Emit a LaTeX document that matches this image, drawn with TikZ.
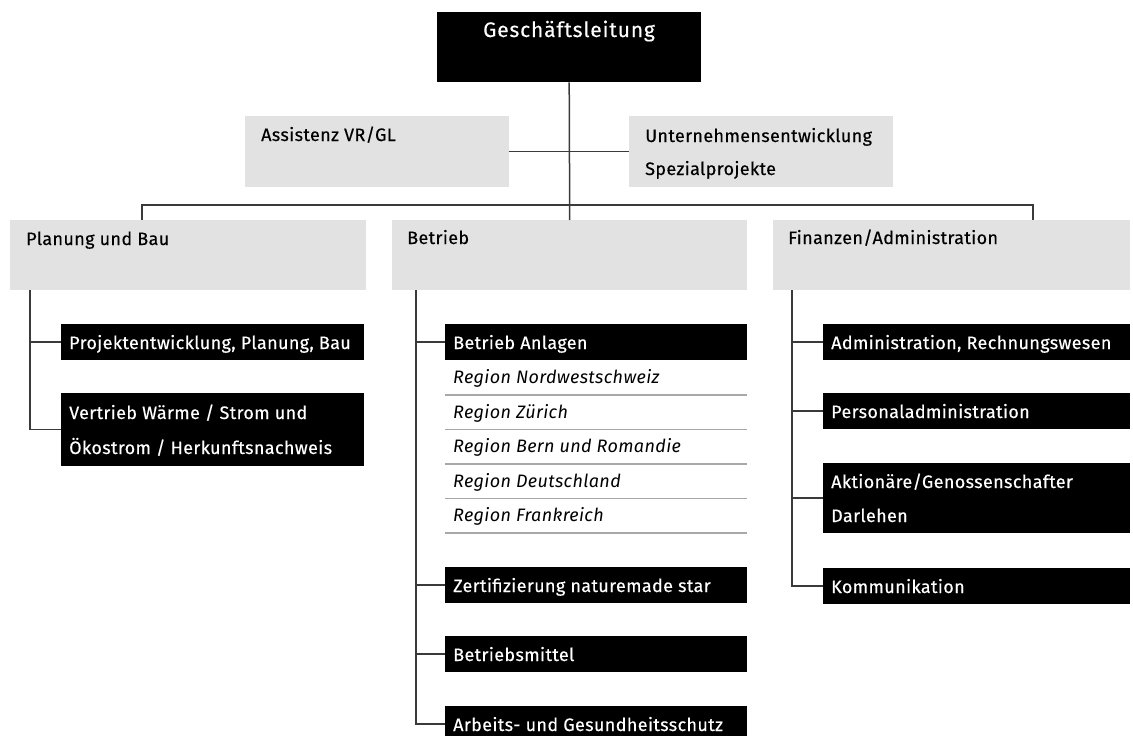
\documentclass[tikz,border=0pt]{standalone}
\usepackage{fontspec}
\setmainfont{Fira Sans}[LetterSpace=2, UprightFeatures={FakeBold=0.35}]
\begin{document}
\begin{tikzpicture}[x=1pt,y=-1pt,
  hdr/.style={fill=headgray, anchor=north west, inner sep=0pt, draw=none},
  blk/.style={fill=black, anchor=north west, inner sep=0pt, draw=none},
  rgn/.style={anchor=north west, inner sep=0pt, draw=none, minimum width=302pt, minimum height=34.5pt},
  dtxt/.style={anchor=base west, inner sep=0pt, text=black, font=\fontsize{18}{21}\selectfont},
  wtxt/.style={anchor=base west, inner sep=0pt, text=white, font=\fontsize{18}{21}\selectfont},
  itxt/.style={anchor=base west, inner sep=0pt, text=black, font=\fontsize{18}{21}\selectfont\itshape},
  conn/.style={draw=linegray, line width=1.5pt},
  sepline/.style={draw=sepgray, line width=1.2pt}
]
\definecolor{headgray}{HTML}{E1E2E1}
\definecolor{linegray}{HTML}{3A3A3A}
\definecolor{sepgray}{HTML}{A8A8A8}
\useasboundingbox (0,0) rectangle (1133,736);

% top
\node[blk, minimum width=264pt, minimum height=70pt] (gl) at (437,12) {};
\node[anchor=base, inner sep=0pt, text=white, font=\fontsize{21}{24}\selectfont\addfontfeature{LetterSpace=4}] (glt) at (569,37) {Geschäftsleitung};

\node[hdr, minimum width=264pt, minimum height=71pt] (as) at (245,116) {};
\node[dtxt] (ast) at (261,141) {Assistenz VR/GL};
\node[hdr, minimum width=264pt, minimum height=71pt] (ue) at (629,116) {};
\node[dtxt] (uet1) at (645,142) {Unternehmensentwicklung};
\node[dtxt] (uet2) at (645,175) {Spezialprojekte};

% headers
\node[hdr, minimum width=356pt, minimum height=70pt] (pb) at (10,220) {};
\node[dtxt] (pbt) at (26,245) {Planung und Bau};
\node[hdr, minimum width=355pt, minimum height=70pt] (be) at (392,220) {};
\node[dtxt] (bet) at (407,244) {Betrieb};
\node[hdr, minimum width=357pt, minimum height=70pt] (fi) at (773,220) {};
\node[dtxt] (fit) at (788,244) {Finanzen/Administration};

% Planung column
\node[blk, minimum width=303pt, minimum height=36pt] (pb1) at (61,324) {};
\node[wtxt] (pb1t) at (69,349) {Projektentwicklung, Planung, Bau};
\node[blk, minimum width=303pt, minimum height=73pt] (pb2) at (61,393) {};
\node[wtxt] (pb2t1) at (69,419) {Vertrieb Wärme / Strom und};
\node[wtxt] (pb2t2) at (69,454) {Ökostrom / Herkunftsnachweis};

% Betrieb column
\node[blk, minimum width=302pt, minimum height=36pt] (b1) at (445,324) {};
\node[wtxt] (b1t) at (453,349) {Betrieb Anlagen};
\node[rgn] (r1) at (445,360) {};
\node[itxt] (r1t) at (453,383) {Region Nordwestschweiz};
\node[rgn] (r2) at (445,394.5) {};
\node[itxt] (r2t) at (453,418) {Region Zürich};
\node[rgn] (r3) at (445,429) {};
\node[itxt] (r3t) at (453,452.5) {Region Bern und Romandie};
\node[rgn] (r4) at (445,463.5) {};
\node[itxt] (r4t) at (453,487) {Region Deutschland};
\node[rgn] (r5) at (445,498) {};
\node[itxt] (r5t) at (453,521.5) {Region Frankreich};
\foreach \r in {r1,r2,r3,r4,r5}{\draw[sepline] (\r.south west) -- (\r.south east);}
\node[blk, minimum width=302pt, minimum height=36pt] (b2) at (445,567) {};
\node[wtxt] (b2t) at (453,592) {Zertifizierung naturemade star};
\node[blk, minimum width=302pt, minimum height=36pt] (b3) at (445,636) {};
\node[wtxt] (b3t) at (453,661) {Betriebsmittel};
\node[blk, minimum width=302pt, minimum height=36pt] (b4) at (445,706) {};
\node[wtxt] (b4t) at (453,731) {Arbeits- und Gesundheitsschutz};

% Finanzen column
\node[blk, minimum width=307pt, minimum height=36pt] (f1) at (823,324) {};
\node[wtxt] (f1t) at (831,349) {Administration, Rechnungswesen};
\node[blk, minimum width=307pt, minimum height=36pt] (f2) at (823,393) {};
\node[wtxt] (f2t) at (831,418) {Personaladministration};
\node[blk, minimum width=307pt, minimum height=70pt] (f3) at (823,463) {};
\node[wtxt] (f3t1) at (831,488) {Aktionäre/Genossenschafter};
\node[wtxt] (f3t2) at (831,522) {Darlehen};
\node[blk, minimum width=307pt, minimum height=36pt] (f4) at (823,568) {};
\node[wtxt] (f4t) at (831,593) {Kommunikation};

% connectors
\coordinate (bus) at (569.5,205);
\draw[conn] (gl.south) -- (be.north);
\draw[conn] (as.east) -- (ue.west);
\draw[conn] ([xshift=132pt]pb.north west) |- (bus) -| ([xshift=260pt]fi.north west);

\coordinate (pbtrunk) at ([xshift=20pt]pb.south west);
\draw[conn] (pbtrunk) |- (pb2.west);
\draw[conn] (pb1.west) -- (pb1.west -| pbtrunk);

\coordinate (betrunk) at ([xshift=24pt]be.south west);
\draw[conn] (betrunk) |- ([yshift=-18pt]b4.north west);
\draw[conn] (b1.west) -- (b1.west -| betrunk);
\draw[conn] (b2.west) -- (b2.west -| betrunk);
\draw[conn] (b3.west) -- (b3.west -| betrunk);

\coordinate (fitrunk) at ([xshift=19pt]fi.south west);
\draw[conn] (fitrunk) |- (f4.west);
\draw[conn] (f1.west) -- (f1.west -| fitrunk);
\draw[conn] (f2.west) -- (f2.west -| fitrunk);
\draw[conn] (f3.west) -- (f3.west -| fitrunk);
\end{tikzpicture}
\end{document}
